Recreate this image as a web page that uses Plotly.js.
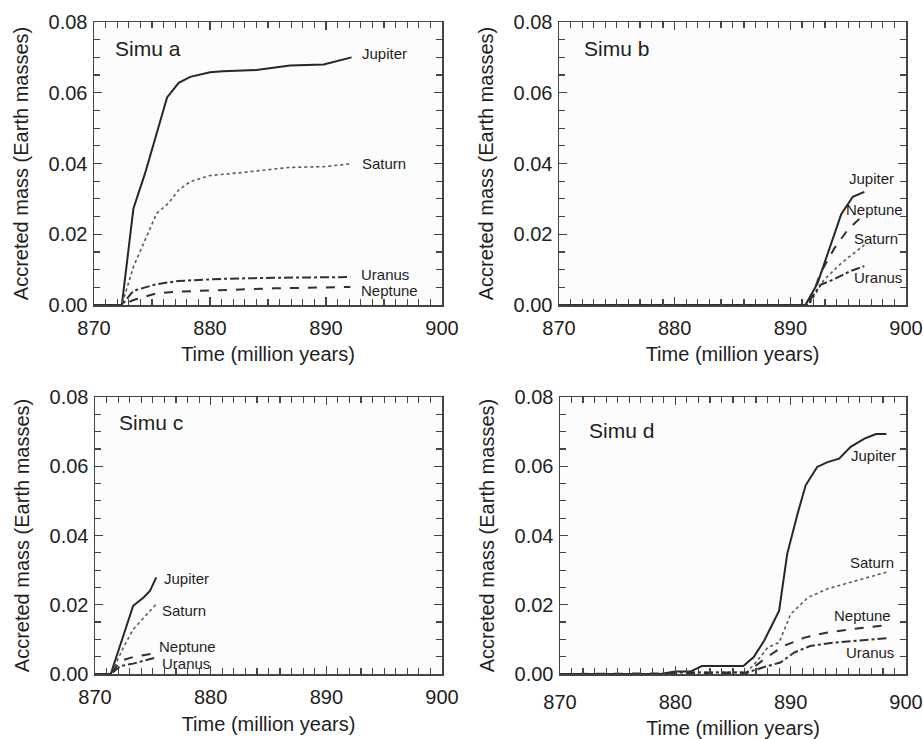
<!DOCTYPE html>
<html>
<head>
<meta charset="utf-8">
<script src="https://cdn.plot.ly/plotly-3.0.1.min.js"></script>
<style>html,body{margin:0;padding:0;background:#fff;}#chart{width:923px;height:739px;}</style>
</head>
<body>
<div id="chart"></div>
<script>
// ---- Data (time in million years, accreted mass in Earth masses) ----
// Simu a
const aJupT = [870, 872.4, 873.4, 874.4, 875.4, 876.3, 877.3, 878.3, 880, 881.1, 884.0, 885.5, 886.9, 889.8, 890.9, 892.2];
const aJupM = [0, 0, 0.0273, 0.0372, 0.0485, 0.0587, 0.0628, 0.0645, 0.0658, 0.0661, 0.0664, 0.0671, 0.0677, 0.0680, 0.0690, 0.0700];
const aSatT = [870, 872.4, 873.4, 874.4, 875.4, 876.4, 877.3, 878.3, 880, 882.6, 884.6, 886.9, 889.8, 892.1];
const aSatM = [0, 0, 0.0108, 0.0184, 0.0259, 0.0287, 0.0325, 0.0349, 0.0366, 0.0374, 0.0380, 0.0389, 0.0391, 0.0399];
const aUraT = [870, 872.4, 873.4, 875.4, 877.3, 881.1, 885.5, 892.1];
const aUraM = [0, 0, 0.0040, 0.0059, 0.0068, 0.0074, 0.0077, 0.0079];
const aNepT = [870, 872.4, 873.4, 875.4, 877.3, 881.1, 885.5, 892.1];
const aNepM = [0, 0, 0.0014, 0.0033, 0.0038, 0.0042, 0.0047, 0.0051];
// Simu b
const bJupT = [870, 891.3, 892.35, 893.36, 894.4, 895.4, 896.4];
const bJupM = [0, 0, 0.0061, 0.0155, 0.0257, 0.0306, 0.0320];
const bNepT = [870, 891.6, 892.6, 893.8, 894.95, 896.4];
const bNepM = [0, 0, 0.0090, 0.0160, 0.0212, 0.0257];
const bSatT = [870, 891.6, 892.9, 894.4, 896.4];
const bSatM = [0, 0, 0.0071, 0.0118, 0.0170];
const bUraT = [870, 891.4, 892.6, 893.8, 895.2, 896.4];
const bUraM = [0, 0, 0.0057, 0.0073, 0.0096, 0.0110];
// Simu c
const cJupT = [870, 871.36, 873.3, 874.2, 874.75, 875.3];
const cJupM = [0, 0, 0.0197, 0.0221, 0.0240, 0.0279];
const cSatT = [870, 871.36, 872.45, 873.3, 874.5, 875.3];
const cSatM = [0, 0, 0.0076, 0.0129, 0.0173, 0.0202];
const cNepT = [870, 871.36, 872.2, 873.3, 875.0];
const cNepM = [0, 0, 0.0038, 0.0049, 0.0059];
const cUraT = [870, 871.36, 872.2, 873.3, 875.2];
const cUraM = [0, 0, 0.0023, 0.0030, 0.0047];
// Simu d
const dJupT = [870, 878.7, 880.0, 881.3, 882.3, 885.9, 886.8, 887.7, 889.0, 889.7, 890.6, 891.3, 892.3, 893.2, 894.2, 895.2, 896.4, 897.4, 898.3];
const dJupM = [0, 0, 0.0007, 0.0007, 0.0023, 0.0023, 0.0049, 0.0096, 0.0183, 0.0347, 0.0463, 0.0545, 0.0598, 0.0612, 0.0622, 0.0656, 0.0680, 0.0693, 0.0693];
const dSatT = [870, 879, 880, 886.2, 887.1, 888.0, 889.0, 890.0, 891.5, 893.2, 895.2, 898.3];
const dSatM = [0, 0, 0.0005, 0.0005, 0.0038, 0.0076, 0.0091, 0.0173, 0.0221, 0.0246, 0.0265, 0.0294];
const dNepT = [870, 886.2, 887.7, 889.4, 891.2, 893.2, 895.2, 898.3];
const dNepM = [0, 0.0003, 0.0043, 0.0081, 0.0105, 0.0120, 0.0129, 0.0141];
const dUraT = [870, 879, 880, 886.2, 887.7, 889.1, 890.3, 891.7, 893.8, 896.0, 898.3];
const dUraM = [0, 0, 0.0004, 0.0004, 0.0020, 0.0033, 0.0062, 0.0081, 0.0091, 0.0096, 0.0103];

const planets = ["Jupiter", "Saturn", "Uranus", "Neptune"];
const panelNames = ["Simu a", "Simu b", "Simu c", "Simu d"];

// ---- Styles ----
const styles = {
  Jupiter: {color: "#262626", width: 2, dash: "solid"},
  Saturn:  {color: "#5a5a5a", width: 1.6, dash: "dot"},
  Uranus:  {color: "#303030", width: 2, dash: "dashdot"},
  Neptune: {color: "#303030", width: 2, dash: "dash"}
};
const panelData = [
  {Jupiter: [aJupT, aJupM], Saturn: [aSatT, aSatM], Uranus: [aUraT, aUraM], Neptune: [aNepT, aNepM]},
  {Jupiter: [bJupT, bJupM], Saturn: [bSatT, bSatM], Uranus: [bUraT, bUraM], Neptune: [bNepT, bNepM]},
  {Jupiter: [cJupT, cJupM], Saturn: [cSatT, cSatM], Uranus: [cUraT, cUraM], Neptune: [cNepT, cNepM]},
  {Jupiter: [dJupT, dJupM], Saturn: [dSatT, dSatM], Uranus: [dUraT, dUraM], Neptune: [dNepT, dNepM]}
];

const traces = [];
panelData.forEach((pd, i) => {
  const sfx = i === 0 ? "" : String(i + 1);
  planets.forEach(p => {
    traces.push({
      type: "scatter", mode: "lines",
      x: pd[p][0], y: pd[p][1],
      xaxis: "x" + sfx, yaxis: "y" + sfx,
      name: p, showlegend: false,
      line: Object.assign({}, styles[p])
    });
  });
});

const W = 923, H = 739;
const font = "Liberation Sans, Arial, Helvetica, sans-serif";
const txt = "#1e1e1e";
function xdom(l, r) { return [l / W, r / W]; }
function ydom(t, b) { return [(H - b) / H, (H - t) / H]; }

const boxes = [
  {l: 94, r: 442, t: 22, b: 305, xls: 4, xts: 9},
  {l: 559, r: 906, t: 22, b: 305, xls: 4, xts: 9},
  {l: 95, r: 442, t: 397, b: 674, xls: 4, xts: 10},
  {l: 560, r: 906, t: 397, b: 674, xls: 9, xts: 12}
];

const layout = {
  width: W, height: H,
  margin: {l: 0, r: 0, t: 0, b: 0},
  paper_bgcolor: "#ffffff",
  plot_bgcolor: "#fcfcfc",
  font: {family: font, size: 20, color: txt},
  showlegend: false,
  annotations: []
};

boxes.forEach((bx, i) => {
  const sfx = i === 0 ? "" : String(i + 1);
  const xa = "xaxis" + sfx, ya = "yaxis" + sfx;
  layout[xa] = {
    domain: xdom(bx.l, bx.r), anchor: "y" + sfx,
    range: [870, 900], dtick: 10,
    ticks: "inside", ticklen: 8, tickwidth: 1.3, tickcolor: "#444",
    minor: {dtick: 1, ticks: "inside", ticklen: 6, tickcolor: "#444", tickwidth: 1.2},
    showline: true, linecolor: "#444", linewidth: 1.5, mirror: "allticks",
    showgrid: false, zeroline: false,
    ticklabelstandoff: bx.xls,
    tickfont: {family: font, size: 20, color: txt},
    title: {text: "Time (million years)", font: {family: font, size: 20, color: txt}, standoff: bx.xts},
    fixedrange: true
  };
  layout[ya] = {
    domain: ydom(bx.t, bx.b), anchor: "x" + sfx,
    range: [0, 0.08], dtick: 0.02, tickformat: ".2f",
    ticks: "inside", ticklen: 8, tickwidth: 1.3, tickcolor: "#444",
    minor: {dtick: 0.005, ticks: "inside", ticklen: 6, tickcolor: "#444", tickwidth: 1.2},
    showline: true, linecolor: "#444", linewidth: 1.5, mirror: "allticks",
    showgrid: false, zeroline: false,
    ticklabelstandoff: 1,
    tickfont: {family: font, size: 20, color: txt},
    title: {text: "Accreted mass (Earth masses)", font: {family: font, size: 20, color: txt}, standoff: 14},
    fixedrange: true
  };
});

// Panel titles
const simuPos = [[871.6, 0.0726], [872.0, 0.0726], [871.9, 0.0725], [872.3, 0.0704]];
simuPos.forEach((p, i) => {
  const sfx = i === 0 ? "" : String(i + 1);
  layout.annotations.push({
    xref: "x" + sfx, yref: "y" + sfx, x: p[0], y: p[1],
    text: panelNames[i], showarrow: false, xanchor: "left", yanchor: "middle",
    font: {family: font, size: 21, color: txt}
  });
});

// Curve labels: [panel, planet, x, y, xanchor]
const labelPos = [
  [0, "Jupiter", 892.9, 0.0712, "left"],
  [0, "Saturn", 892.9, 0.0399, "left"],
  [0, "Uranus", 892.85, 0.0086, "left"],
  [0, "Neptune", 892.85, 0.0041, "left"],
  [1, "Jupiter", 897.0, 0.0359, "center"],
  [1, "Neptune", 897.3, 0.0269, "center"],
  [1, "Saturn", 897.4, 0.0189, "center"],
  [1, "Uranus", 897.6, 0.0079, "center"],
  [2, "Jupiter", 875.8, 0.0275, "left"],
  [2, "Saturn", 875.6, 0.0183, "left"],
  [2, "Neptune", 875.4, 0.0079, "left"],
  [2, "Uranus", 875.6, 0.0029, "left"],
  [3, "Jupiter", 899.3, 0.0632, "right"],
  [3, "Saturn", 899.1, 0.0322, "right"],
  [3, "Neptune", 898.9, 0.0168, "right"],
  [3, "Uranus", 899.1, 0.0061, "right"]
];
labelPos.forEach(l => {
  const sfx = l[0] === 0 ? "" : String(l[0] + 1);
  layout.annotations.push({
    xref: "x" + sfx, yref: "y" + sfx, x: l[2], y: l[3],
    text: l[1], showarrow: false, xanchor: l[4], yanchor: "middle",
    font: {family: font, size: 15, color: txt}
  });
});

Plotly.newPlot("chart", traces, layout, {staticPlot: true, displayModeBar: false});
</script>
</body>
</html>
